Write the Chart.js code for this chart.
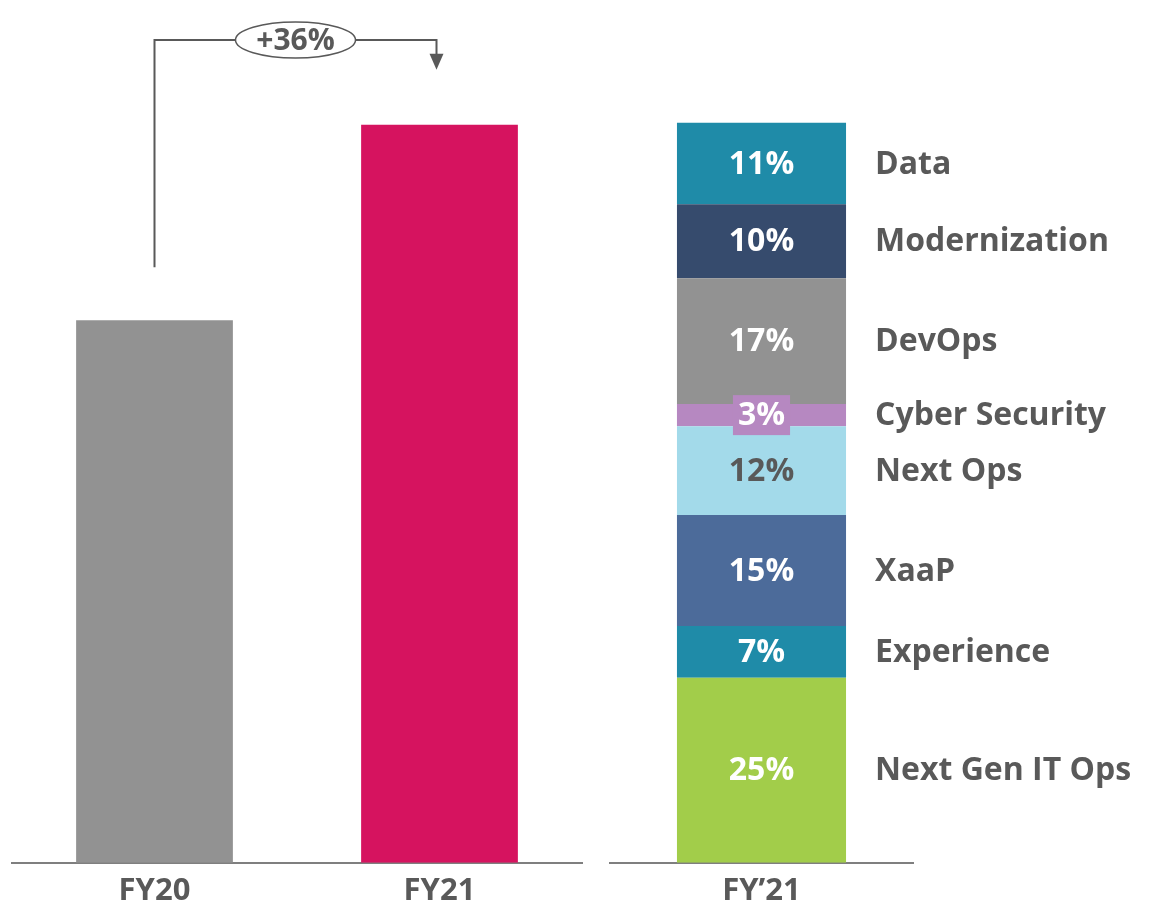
<!DOCTYPE html>
<html>
<head>
<meta charset="utf-8">
<script src="https://cdn.jsdelivr.net/npm/chart.js@4"></script>
<style>
  body { margin: 0; background: #fff; }
  #wrap { position: relative; width: 1152px; height: 922px; }
  #left { position: absolute; left: 0; top: 0; }
  #right { position: absolute; left: 600px; top: 0; }
</style>
</head>
<body>
<div id="wrap">
  <canvas id="left" width="600" height="922"></canvas>
  <canvas id="right" width="552" height="922"></canvas>
</div>
<script>
// Données
const years = ["FY20", "FY21"];
const revenue = [100, 136];
const growthLabel = "+36%";

const mixCategory = ["FY\u201921"];
const segments = ["Next Gen IT Ops", "Experience", "XaaP", "Next Ops", "Cyber Security", "DevOps", "Modernization", "Data"];
const shares = [25, 7, 15, 12, 3, 17, 10, 11];

// Styles
const segColors = ["#A2CD4A", "#1F8BA8", "#4C6B9A", "#A3DAEA", "#B688C1", "#929292", "#364B6D", "#1F8BA8"];
const valueColors = ["#fff", "#fff", "#fff", "#595959", "#fff", "#fff", "#fff", "#fff"];
const boxedLabel = [false, false, false, false, true, false, false, false];
const textGray = "#595959";
const FONT = "'Open Sans', sans-serif";

Chart.defaults.animation = false;

// Flèche +36%
const growthArrow = {
  id: "growthArrow",
  afterDatasetsDraw(chart) {
    const ctx = chart.ctx;
    const xs = chart.scales.x, ys = chart.scales.y;
    const xa = xs.getPixelForValue(0), xb = xs.getPixelForValue(1) - 3;
    const ya = ys.getPixelForValue(revenue[0]) - 53;
    const yb = ys.getPixelForValue(revenue[1]) - 55;
    const top = chart.chartArea.top + 40;
    const mid = (xa + xb) / 2;
    ctx.save();
    ctx.strokeStyle = textGray;
    ctx.fillStyle = textGray;
    ctx.lineWidth = 2;
    ctx.beginPath();
    ctx.moveTo(xa, ya);
    ctx.lineTo(xa, top);
    ctx.lineTo(xb, top);
    ctx.lineTo(xb, yb - 14);
    ctx.stroke();
    ctx.beginPath();
    ctx.moveTo(xb - 7, yb - 16);
    ctx.lineTo(xb + 7, yb - 16);
    ctx.lineTo(xb, yb);
    ctx.closePath();
    ctx.fill();
    ctx.beginPath();
    ctx.ellipse(mid, top, 60, 18, 0, 0, Math.PI * 2);
    ctx.fillStyle = "#fff";
    ctx.fill();
    ctx.lineWidth = 1.5;
    ctx.stroke();
    ctx.fillStyle = textGray;
    ctx.font = "bold 30px " + FONT;
    ctx.textAlign = "center";
    ctx.textBaseline = "middle";
    ctx.fillText(growthLabel, mid, top + 1);
    ctx.restore();
  }
};

// Étiquettes du mix
const mixLabels = {
  id: "mixLabels",
  afterDatasetsDraw(chart) {
    const ctx = chart.ctx;
    ctx.save();
    ctx.textBaseline = "middle";
    chart.data.datasets.forEach((ds, i) => {
      const bar = chart.getDatasetMeta(i).data[0];
      const cy = (bar.y + bar.base) / 2;
      const txt = ds.data[0] + "%";
      ctx.font = "bold 32px " + FONT;
      if (boxedLabel[i]) {
        const w = ctx.measureText(txt).width + 10;
        ctx.fillStyle = segColors[i];
        ctx.fillRect(bar.x - w / 2, cy - 20, w, 40);
      }
      ctx.textAlign = "center";
      ctx.fillStyle = valueColors[i];
      ctx.fillText(txt, bar.x, cy + 1);
      ctx.textAlign = "left";
      ctx.fillStyle = textGray;
      ctx.fillText(ds.label, bar.x + bar.width / 2 + 29, cy + 1);
    });
    ctx.restore();
  }
};

const xAxis = {
  grid: { display: false, drawTicks: false },
  border: { color: "#7F7F7F", width: 2 },
  ticks: { color: textGray, font: { family: FONT, size: 31, weight: "bold" }, padding: 10 }
};

new Chart(document.getElementById("left"), {
  type: "bar",
  data: {
    labels: years,
    datasets: [{
      data: revenue,
      backgroundColor: ["#929292", "#D6135F"],
      barPercentage: 0.55,
      categoryPercentage: 1
    }]
  },
  options: {
    responsive: false,
    layout: { padding: { left: 12, right: 18, top: 0, bottom: 2 } },
    plugins: { legend: { display: false }, tooltip: { enabled: false } },
    scales: {
      x: xAxis,
      y: { display: false, min: 0, max: 159 }
    }
  },
  plugins: [growthArrow]
});

new Chart(document.getElementById("right"), {
  type: "bar",
  data: {
    labels: mixCategory,
    datasets: segments.map((s, i) => ({
      label: s,
      data: [shares[i]],
      backgroundColor: segColors[i],
      barPercentage: 0.558,
      categoryPercentage: 1
    }))
  },
  options: {
    responsive: false,
    layout: { padding: { left: 10, right: 239, top: 0, bottom: 2 } },
    plugins: { legend: { display: false }, tooltip: { enabled: false } },
    scales: {
      x: Object.assign({ stacked: true }, xAxis),
      y: { display: false, stacked: true, min: 0, max: 116.6 }
    }
  },
  plugins: [mixLabels]
});
</script>
</body>
</html>
